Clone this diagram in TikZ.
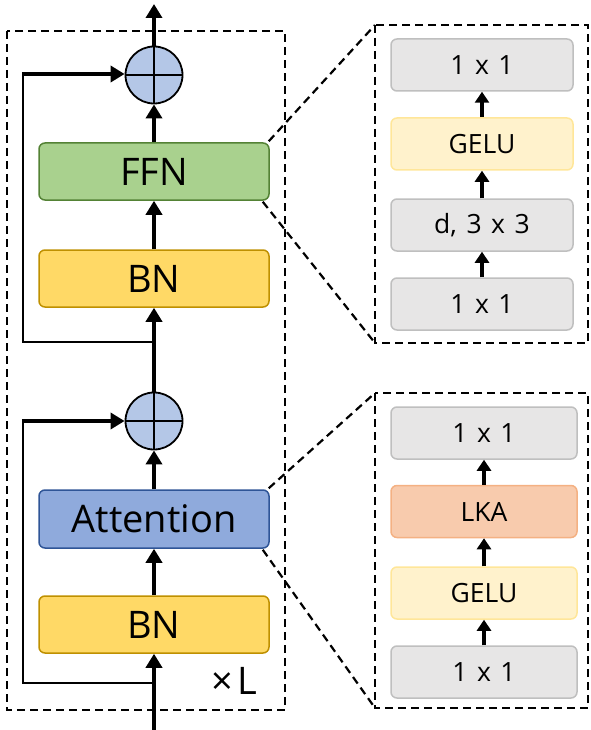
\documentclass[tikz,border=0pt]{standalone}
\usepackage{fontspec}
\setmainfont{Open Sans}
\usetikzlibrary{arrows.meta}
\definecolor{ffnfill}{HTML}{A9D18E}
\definecolor{ffndraw}{HTML}{548235}
\definecolor{bnfill}{HTML}{FFD966}
\definecolor{bndraw}{HTML}{BF9000}
\definecolor{attfill}{HTML}{8FAADC}
\definecolor{attdraw}{HTML}{2F5597}
\definecolor{sumfill}{HTML}{B4C7E7}
\definecolor{greyfill}{HTML}{E7E6E6}
\definecolor{greydraw}{HTML}{BFBFBF}
\definecolor{gelufill}{HTML}{FFF2CC}
\definecolor{geludraw}{HTML}{FFE699}
\definecolor{lkafill}{HTML}{F8CBAD}
\definecolor{lkadraw}{HTML}{F4B183}
\newcommand{\wsp}{\hspace{0.36em}}
\tikzset{
  mainbox/.style={draw, line width=1.5pt, rounded corners=6pt, minimum width=230pt, minimum height=57pt, inner sep=0pt, font=\fontsize{38}{40}\selectfont},
  subbox/.style={draw, line width=1.5pt, rounded corners=6pt, minimum height=52pt, inner sep=0pt, font=\fontsize{26.5}{28}\selectfont},
  sumnode/.style={circle, draw, line width=1.8pt, fill=sumfill, minimum size=57pt, inner sep=0pt},
  flow/.style={line width=4.6pt, -{Triangle[length=14pt,width=16pt]}},
  subflow/.style={line width=4.8pt, -{Triangle[length=11pt,width=14pt]}},
  skip/.style={line width=2.2pt},
  frame/.style={line width=2.2pt, dash pattern=on 8pt off 5pt},
}
\begin{document}
\begin{tikzpicture}[x=1pt,y=-1pt]
\useasboundingbox (0,0) rectangle (590,730);
% left frame
\draw[frame] (7,31) rectangle (285,710);
% main column
\node[sumnode] (s1) at (154,75) {};
\draw[line width=1.8pt] (s1.north) -- (s1.south) (s1.west) -- (s1.east);
\node[mainbox, fill=ffnfill, draw=ffndraw] (ffn) at (154,171.5) {FFN};
\node[mainbox, fill=bnfill, draw=bndraw] (bn1) at (154,278.5) {BN};
\node[sumnode] (s2) at (154,421) {};
\draw[line width=1.8pt] (s2.north) -- (s2.south) (s2.west) -- (s2.east);
\node[mainbox, fill=attfill, draw=attdraw, minimum height=58pt] (att) at (154,519) {Attention};
\node[mainbox, fill=bnfill, draw=bndraw] (bn2) at (154,624.5) {BN};
\node[font=\fontsize{38}{40}\selectfont, inner sep=0pt, anchor=base] (xl) at (234,694) {×\hspace{4pt}L};
\coordinate (out) at (154,4);
\coordinate (in) at (154,732);
\coordinate (br1) at (154,342);
\coordinate (br2) at (154,683);
\coordinate (k1) at (23,342);
\coordinate (k2) at (23,74);
\coordinate (k3) at (23,683);
\coordinate (k4) at (23,421);
\draw[flow] (s1.north) -- (out);
\draw[flow] (ffn.north) -- (s1.south);
\draw[flow] (bn1.north) -- (ffn.south);
\draw[flow] (s2.north) -- (bn1.south);
\draw[flow] (att.north) -- (s2.south);
\draw[flow] (bn2.north) -- (att.south);
\draw[flow] (in) -- (bn2.south);
% skips
\draw[skip] (br1) -- (k1) -- (k2);
\draw[flow] ([xshift=-1.1pt]k2) -- (k2 -| s1.west);
\draw[skip] (br2) -- (k3) -- (k4);
\draw[flow] ([xshift=-1.1pt]k4) -- (s2.west);
% right top frame
\draw[frame] (375,25) rectangle (588,343);
\node[subbox, fill=greyfill, draw=greydraw, minimum width=182pt] (a1) at (482,65) {1\wsp x\wsp 1};
\node[subbox, fill=gelufill, draw=geludraw, minimum width=182pt] (a2) at (482,144) {GELU};
\node[subbox, fill=greyfill, draw=greydraw, minimum width=182pt] (a3) at (482,225) {d,\wsp 3\wsp x\wsp 3};
\node[subbox, fill=greyfill, draw=greydraw, minimum width=182pt] (a4) at (482,304) {1\wsp x\wsp 1};
\draw[subflow] (a4.north) -- (a3.south);
\draw[subflow] (a3.north) -- (a2.south);
\draw[subflow] (a2.north) -- (a1.south);
% right bottom frame
\draw[frame] (375,393) rectangle (588,708);
\node[subbox, fill=greyfill, draw=greydraw, minimum width=186pt] (b1) at (484,433) {1\wsp x\wsp 1};
\node[subbox, fill=lkafill, draw=lkadraw, minimum width=186pt] (b2) at (484,511.5) {LKA};
\node[subbox, fill=gelufill, draw=geludraw, minimum width=186pt] (b3) at (484,593) {GELU};
\node[subbox, fill=greyfill, draw=greydraw, minimum width=186pt] (b4) at (484,672) {1\wsp x\wsp 1};
\draw[subflow] (b4.north) -- (b3.south);
\draw[subflow] (b3.north) -- (b2.south);
\draw[subflow] (b2.north) -- (b1.south);
% zoom lines
\coordinate (t1) at (375,25);
\coordinate (t2) at (375,343);
\coordinate (t3) at (375,393);
\coordinate (t4) at (375,708);
\draw[frame] ([xshift=-1pt,yshift=1pt]ffn.north east) -- (t1);
\draw[frame] ([xshift=-7pt,yshift=-1pt]ffn.south east) -- (t2);
\draw[frame] ([xshift=-1pt,yshift=1pt]att.north east) -- (t3);
\draw[frame] ([xshift=-7pt,yshift=-1pt]att.south east) -- (t4);
\end{tikzpicture}
\end{document}
